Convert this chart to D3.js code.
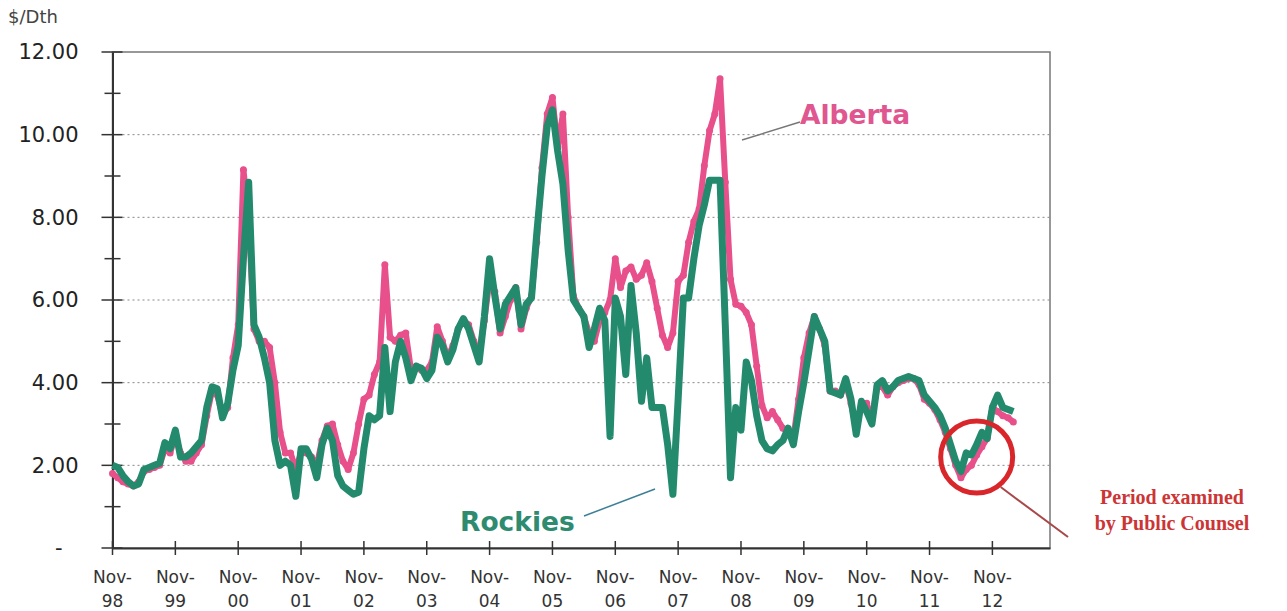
<!DOCTYPE html>
<meta charset="utf-8">
<head>
  <title>Alberta vs Rockies gas prices</title>
</head>
<script src="https://d3js.org/d3.v7.min.js"></script>
<body style="margin:0;background:#fff">
  <div id="chart"></div>
</body>

<script>
  // monthly prices, Nov-98 .. Mar-13 ($/Dth)
  var rockies = [
    2.0, 1.95, 1.75, 1.6, 1.5, 1.55, 1.9, 1.95, 2.0, 2.05, 2.55, 2.4,
    2.85, 2.2, 2.2, 2.3, 2.45, 2.6, 3.4, 3.9, 3.85, 3.15, 3.5, 4.3,
    4.9, 7.0, 8.85, 5.4, 5.1, 4.6, 4.0, 2.6, 2.0, 2.1, 2.0, 1.25,
    2.4, 2.4, 2.15, 1.7, 2.5, 2.9, 2.6, 1.75, 1.5, 1.4, 1.3, 1.35,
    2.4, 3.2, 3.1, 3.2, 4.85, 3.3, 4.5, 5.0, 4.6, 4.05, 4.4, 4.35,
    4.1, 4.3, 5.1, 4.9, 4.5, 4.8, 5.3, 5.55, 5.3, 4.9, 4.5, 5.6,
    7.0, 6.1, 5.3, 5.9, 6.1, 6.3, 5.4, 5.9, 6.05, 7.6, 9.0, 10.2,
    10.6, 9.6, 8.8, 7.2, 6.0, 5.8, 5.6, 4.85, 5.3, 5.8, 5.5, 2.7,
    6.05, 5.6, 4.2, 6.35, 5.2, 3.55, 4.6, 3.4, 3.4, 3.4, 2.5, 1.3,
    3.6, 6.05, 6.05, 7.0, 7.8, 8.3, 8.9, 8.9, 8.9, 5.4, 1.7, 3.4,
    2.85, 4.5, 4.05, 3.2, 2.6, 2.4, 2.35, 2.5, 2.6, 2.9, 2.5, 3.3,
    4.0, 4.8, 5.6, 5.3, 5.0, 3.8, 3.75, 3.7, 4.1, 3.6, 2.75, 3.55,
    3.3, 3.0, 3.95, 4.05, 3.8, 3.9, 4.05, 4.1, 4.15, 4.1, 4.05, 3.7,
    3.55, 3.4, 3.2, 2.9, 2.5, 2.1, 1.85, 2.3, 2.25, 2.5, 2.8, 2.65,
    3.4, 3.7, 3.4, 3.35, 3.3
  ];
  var alberta = [
    1.8, 1.7, 1.6, 1.55, 1.5, 1.6, 1.85, 1.9, 1.95, 2.0, 2.4, 2.3,
    2.7, 2.3, 2.1, 2.1, 2.3, 2.5, 3.2, 3.8, 3.7, 3.2, 3.4, 4.6,
    5.4, 9.15, 8.0, 5.3, 5.0, 5.0, 4.85, 4.0, 2.8, 2.3, 2.3, 1.9,
    2.3, 2.3, 2.2, 2.0, 2.6, 2.95, 3.0, 2.5, 2.1, 1.9, 2.3, 3.0,
    3.6, 3.7, 4.2, 4.5, 6.85, 5.1, 5.0, 5.15, 5.2, 4.3, 4.4, 4.3,
    4.3, 4.5, 5.35, 5.0, 4.6, 4.9, 5.3, 5.5, 5.4, 5.0, 4.7, 5.5,
    6.5, 6.2, 5.2, 5.6, 6.0, 6.3, 5.3, 5.8, 6.1, 7.4, 9.2, 10.5,
    10.9, 9.7, 10.5, 8.0, 6.1, 5.8, 5.6, 5.2, 5.0, 5.5, 5.7, 6.0,
    7.0, 6.3, 6.7, 6.8, 6.5, 6.6, 6.9, 6.45, 5.8, 5.15, 4.85, 5.2,
    6.45, 6.6, 7.4, 7.9, 8.2, 9.25, 10.1, 10.5, 11.35, 8.85, 6.5, 5.9,
    5.85, 5.7, 5.4, 4.4, 3.45, 3.15, 3.3, 3.1, 2.9, 2.8, 2.65, 3.6,
    4.6, 5.2, 5.6, 5.3, 4.9, 3.8, 3.8, 3.7, 4.0, 3.5, 2.9, 3.5,
    3.5, 3.1, 3.9, 3.9, 3.7, 3.9, 4.0, 4.05, 4.1, 4.1, 3.95, 3.6,
    3.5, 3.35, 3.1, 2.8, 2.4, 2.0, 1.7, 1.9, 2.0, 2.25, 2.45, 2.65,
    3.4, 3.3, 3.2, 3.15, 3.05
  ];
  var yearLabels = ["98", "99", "00", "01", "02", "03", "04", "05", "06", "07", "08", "09", "10", "11", "12"];
  var yTicks = [0, 2, 4, 6, 8, 10, 12];

  var W = 1287, H = 611;
  var svg = d3.select("#chart").append("svg")
    .attr("width", W).attr("height", H)
    .style("font-family", "'DejaVu Sans', Verdana, sans-serif");

  var x = d3.scaleLinear().domain([0, 179]).range([112.5, 1050]);
  var y = d3.scaleLinear().domain([0, 12]).range([548, 52]);

  // frame
  svg.append("rect")
    .attr("x", x(0)).attr("y", y(12))
    .attr("width", x(179) - x(0)).attr("height", y(0) - y(12))
    .attr("fill", "none").attr("stroke", "#777").attr("stroke-width", 1.5);

  // dotted grid
  svg.append("g").selectAll("line")
    .data([2, 4, 6, 8, 10]).enter().append("line")
    .attr("x1", x(0)).attr("x2", x(179))
    .attr("y1", function (d) { return y(d) }).attr("y2", function (d) { return y(d) })
    .attr("stroke", "#888").attr("stroke-width", 1).attr("stroke-dasharray", "2,3");

  // y axis
  var yAxis = svg.append("g")
    .attr("transform", "translate(" + x(0) + ",0)")
    .call(d3.axisLeft(y).tickValues(yTicks).tickSize(0)
      .tickFormat(function (d) { return d == 0 ? "-" : d3.format(".2f")(d) }));
  yAxis.select(".domain").attr("stroke", "#333").attr("stroke-width", 2);
  yAxis.selectAll("text")
    .attr("x", function (d) { return d == 0 ? -50 : -34 })
    .attr("fill", "#222").style("font-size", "21px")
    .style("font-family", "'DejaVu Sans', Verdana, sans-serif");
  // cross ticks on y
  svg.append("g").selectAll("line")
    .data(d3.range(0, 13)).enter().append("line")
    .attr("x1", function (d) { return x(0) - (d % 2 ? 8 : 11) })
    .attr("x2", function (d) { return x(0) + (d % 2 ? 8 : 10) })
    .attr("y1", function (d) { return y(d) }).attr("y2", function (d) { return y(d) })
    .attr("stroke", "#333").attr("stroke-width", 1.5);

  // x axis
  var monthTicks = d3.range(0, yearLabels.length).map(function (k) { return k * 12 });
  var xAxis = svg.append("g")
    .attr("transform", "translate(0," + y(0) + ")")
    .call(d3.axisBottom(x).tickValues(monthTicks).tickSize(0).tickFormat(""));
  xAxis.select(".domain").attr("stroke", "#333").attr("stroke-width", 2);
  svg.append("g").selectAll("line")
    .data(monthTicks).enter().append("line")
    .attr("x1", function (d) { return x(d) }).attr("x2", function (d) { return x(d) })
    .attr("y1", y(0) - 7).attr("y2", y(0) + 7)
    .attr("stroke", "#333").attr("stroke-width", 1.5);
  var xl = svg.append("g").selectAll("text")
    .data(monthTicks).enter().append("text")
    .attr("x", function (d) { return x(d) })
    .attr("text-anchor", "middle")
    .attr("fill", "#333").style("font-size", "17px");
  xl.append("tspan").attr("x", function (d) { return x(d) }).attr("y", 583).text("Nov-");
  xl.append("tspan").attr("x", function (d) { return x(d) }).attr("y", 607)
    .text(function (d, i) { return yearLabels[i] });

  svg.append("text").attr("x", 8).attr("y", 23)
    .attr("fill", "#444").style("font-size", "18px").text("$/Dth");

  // series
  var line = d3.line()
    .x(function (d, i) { return x(i) })
    .y(function (d) { return y(d) })
    .curve(d3.curveLinear);

  svg.append("path").datum(alberta)
    .attr("d", line)
    .attr("fill", "none").attr("stroke", "#e8508b").attr("stroke-width", 6)
    .attr("stroke-linejoin", "round");
  svg.append("g").selectAll("circle")
    .data(alberta).enter().append("circle")
    .attr("cx", function (d, i) { return x(i) })
    .attr("cy", function (d) { return y(d) })
    .attr("r", 3.5).attr("fill", "#e8508b");

  svg.append("path").datum(rockies)
    .attr("d", line)
    .attr("fill", "none").attr("stroke", "#238a6d").attr("stroke-width", 7)
    .attr("stroke-linejoin", "round");

  // labels
  svg.append("line").attr("x1", 742).attr("y1", 140).attr("x2", 800).attr("y2", 122)
    .attr("stroke", "#777").attr("stroke-width", 1.5);
  svg.append("text").attr("x", 800).attr("y", 124)
    .attr("fill", "#e0568f").style("font-size", "26.5px").style("font-weight", "bold")
    .text("Alberta");

  svg.append("line").attr("x1", 584).attr("y1", 516).attr("x2", 655).attr("y2", 489)
    .attr("stroke", "#3d7f96").attr("stroke-width", 1.5);
  svg.append("text").attr("x", 460).attr("y", 531)
    .attr("fill", "#2e8b70").style("font-size", "26.5px").style("font-weight", "bold")
    .text("Rockies");

  // highlight
  var cx = x(165), cy = y(2.2);
  svg.append("line").attr("x1", cx + 24).attr("y1", cy + 30).attr("x2", 1068).attr("y2", 537)
    .attr("stroke", "#a84848").attr("stroke-width", 2);
  svg.append("circle").attr("cx", cx).attr("cy", cy).attr("r", 36)
    .attr("fill", "none").attr("stroke", "#d8262b").attr("stroke-width", 5);
  var note = svg.append("text").attr("text-anchor", "middle")
    .attr("fill", "#cc3535").style("font-size", "20px").style("font-weight", "bold")
    .style("font-family", "'Liberation Serif', 'Times New Roman', serif");
  note.append("tspan").attr("x", 1172).attr("y", 504).text("Period examined");
  note.append("tspan").attr("x", 1172).attr("y", 530).text("by Public Counsel");
</script>
